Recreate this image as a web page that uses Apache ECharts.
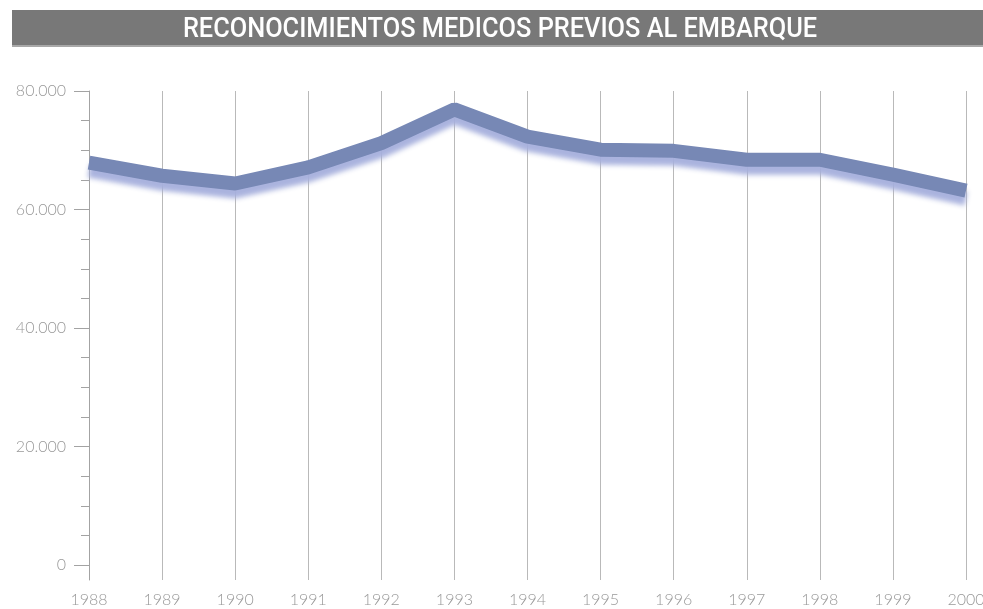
<!DOCTYPE html>
<html>
<head>
<meta charset="utf-8">
<script src="https://cdn.jsdelivr.net/npm/echarts@6/dist/echarts.min.js"></script>
<style>
    html, body { margin: 0; padding: 0; background: #fff; }
    #chart { width: 983px; height: 609px; }
</style>
</head>
<body>
<div id="chart"></div>
<script>
// data
const years = ['1988', '1989', '1990', '1991', '1992', '1993', '1994', '1995', '1996', '1997', '1998', '1999', '2000'];
const reconocimientos = [67900, 65700, 64400, 67100, 71200, 76900, 72300, 70100, 69900, 68400, 68400, 65900, 63200];
const majorTicks = [0, 20000, 40000, 60000, 80000];
const minorTicks = [5000, 10000, 15000, 25000, 30000, 35000, 45000, 50000, 55000, 65000, 70000, 75000];

const titleText = 'RECONOCIMIENTOS MEDICOS PREVIOS AL EMBARQUE';

let chart = echarts.init(document.getElementById('chart'));

const labelFont = {
    color: '#999999',
    fontFamily: 'Lato, "Open Sans", sans-serif',
    fontWeight: 300,
    fontSize: 16
};

let option = {
    animation: false,
    graphic: [
        {
            type: 'rect',
            shape: { x: 12, y: 10, width: 971, height: 36 },
            style: { fill: '#787878' }
        },
        {
            type: 'rect',
            shape: { x: 12, y: 45, width: 971, height: 2 },
            style: { fill: '#a8a8a8' }
        },
        {
            type: 'text',
            x: 500,
            y: 30,
            scaleX: 0.905,
            style: {
                text: titleText,
                fill: '#ffffff',
                font: '500 28px Roboto, "DejaVu Sans Condensed", sans-serif',
                textAlign: 'center',
                textVerticalAlign: 'middle'
            }
        }
    ],
    grid: {
        left: 89,
        right: 17,
        top: 91,
        bottom: 29,
        outerBoundsMode: 'none'
    },
    xAxis: {
        type: 'category',
        data: years,
        boundaryGap: false,
        axisLine: { show: false },
        axisTick: { show: false },
        axisLabel: Object.assign({ margin: 12, interval: 0 }, labelFont),
        splitLine: {
            show: true,
            lineStyle: { color: '#b9b9b9', width: 1 }
        }
    },
    yAxis: [
        {
            type: 'value',
            min: -2500,
            max: 80000,
            axisLine: { show: true, lineStyle: { color: '#a3a3a3' } },
            axisTick: {
                show: true,
                length: 15,
                customValues: majorTicks,
                lineStyle: { color: '#a3a3a3' }
            },
            axisLabel: Object.assign({
                margin: 23,
                customValues: majorTicks,
                formatter: (v) => v.toLocaleString('de-DE')
            }, labelFont),
            splitLine: { show: false }
        },
        {
            type: 'value',
            min: -2500,
            max: 80000,
            position: 'left',
            axisLine: { show: false },
            axisTick: {
                show: true,
                length: 8,
                customValues: minorTicks,
                lineStyle: { color: '#a3a3a3' }
            },
            axisLabel: { show: false },
            splitLine: { show: false }
        }
    ],
    series: [
        {
            name: 'Reconocimientos',
            type: 'line',
            data: reconocimientos,
            symbol: 'none',
            lineStyle: {
                width: 14,
                color: '#7788b5',
                cap: 'butt',
                shadowColor: 'rgba(165,175,220,0.95)',
                shadowBlur: 5,
                shadowOffsetY: 8
            },
            z: 5
        }
    ]
};

chart.setOption(option);
</script>
</body>
</html>
